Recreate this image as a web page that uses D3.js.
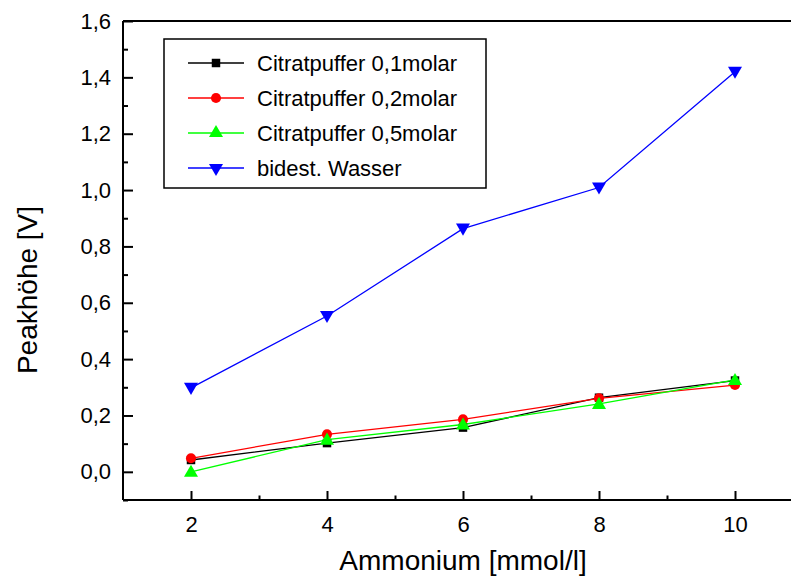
<!DOCTYPE html>
<html><head><meta charset="utf-8">
<script src="https://cdn.jsdelivr.net/npm/d3@7"></script>
<style>html,body{margin:0;padding:0;background:#fff;overflow:hidden}svg{display:block;font-family:"Liberation Sans",Arial,sans-serif}</style>
</head><body>
<svg id="c" width="791" height="578"></svg>
<script>
const xValues = [2, 4, 6, 8, 10];
const seriesNames = ["Citratpuffer 0,1molar", "Citratpuffer 0,2molar", "Citratpuffer 0,5molar", "bidest. Wasser"];
const citrat01 = [0.042, 0.102, 0.157, 0.263, 0.324];
const citrat02 = [0.048, 0.133, 0.186, 0.261, 0.308];
const citrat05 = [0.0, 0.114, 0.168, 0.241, 0.326];
const wasser = [0.298, 0.553, 0.863, 1.009, 1.42];
const yTicks = [0, 0.2, 0.4, 0.6, 0.8, 1.0, 1.2, 1.4, 1.6];
const xTicks = [2, 4, 6, 8, 10];

const colors = ["#000000", "#ff0000", "#00ff00", "#0000ff"];
const symbols = [d3.symbolSquare, d3.symbolCircle, d3.symbolTriangle, d3.symbolTriangle];
const symSizes = [72, 80, 85, 85];
const allSeries = [citrat01, citrat02, citrat05, wasser];

const svg = d3.select("#c");
const L = 123, T = 21, B = 500, R = 803;
const x = d3.scaleLinear().domain([1, 11]).range([L, R]);
const y = d3.scaleLinear().domain([-0.1, 1.6]).range([B, T]);
const fmt = d => d3.format(".1f")(d).replace(".", ",");
const FF = "Liberation Sans, Arial, sans-serif";

// top frame line
svg.append("line").attr("x1", L).attr("x2", R + 10).attr("y1", T).attr("y2", T).attr("stroke", "#000").attr("stroke-width", 2);

// x axis
const gx = svg.append("g").attr("transform", `translate(0,${B})`)
  .call(d3.axisBottom(x).tickValues(xTicks).tickSize(-9).tickPadding(16).tickFormat(d3.format("d")));
gx.select(".domain").attr("stroke-width", 2).attr("d", `M${L},0H${R + 10}`);
gx.selectAll(".tick line").attr("stroke-width", 2);
gx.selectAll("text").attr("font-size", 22).attr("font-family", FF);
const gxm = svg.append("g").attr("transform", `translate(0,${B})`)
  .call(d3.axisBottom(x).tickValues([3, 5, 7, 9]).tickSize(-4.5).tickFormat(""));
gxm.select(".domain").remove();
gxm.selectAll(".tick line").attr("stroke-width", 2);

// y axis
const gy = svg.append("g").attr("transform", `translate(${L},0)`)
  .call(d3.axisLeft(y).tickValues(yTicks).tickSize(-10).tickPadding(12).tickFormat(fmt));
gy.select(".domain").attr("stroke-width", 2).attr("d", `M0,${B}V${T}`);
gy.selectAll(".tick line").attr("stroke-width", 2);
gy.selectAll("text").attr("font-size", 22).attr("font-family", FF);
const gym = svg.append("g").attr("transform", `translate(${L},0)`)
  .call(d3.axisLeft(y).tickValues([-0.1, 0.1, 0.3, 0.5, 0.7, 0.9, 1.1, 1.3, 1.5]).tickSize(-5).tickFormat(""));
gym.select(".domain").remove();
gym.selectAll(".tick line").attr("stroke-width", 2);

// axis titles
svg.append("text").attr("x", x(6)).attr("y", 570).attr("text-anchor", "middle")
  .attr("font-size", 28).text("Ammonium [mmol/l]");
svg.append("text").attr("transform", `translate(37,290) rotate(-90)`).attr("text-anchor", "middle")
  .attr("font-size", 28).text("Peakhöhe [V]");

// series
const line = d3.line().x((d, i) => x(xValues[i])).y(d => y(d));
allSeries.forEach((s, k) => {
  svg.append("path").datum(s).attr("d", line).attr("fill", "none").attr("stroke", colors[k]).attr("stroke-width", 1.3);
});
allSeries.forEach((s, k) => {
  svg.selectAll(null).data(s).enter().append("path")
    .attr("d", d3.symbol().type(symbols[k]).size(symSizes[k]))
    .attr("transform", (d, i) => `translate(${x(xValues[i])},${y(d) + (k === 3 ? -1 : (k === 2 ? 1 : 0))})${k === 3 ? " rotate(180)" : ""}`)
    .attr("fill", colors[k]);
});

// legend
const lg = svg.append("g");
lg.append("rect").attr("x", 164).attr("y", 39).attr("width", 322).attr("height", 149)
  .attr("fill", "#fff").attr("stroke", "#000").attr("stroke-width", 1.5);
const rowY = [63, 98, 133, 168];
seriesNames.forEach((n, k) => {
  lg.append("line").attr("x1", 188).attr("x2", 244).attr("y1", rowY[k]).attr("y2", rowY[k])
    .attr("stroke", colors[k]).attr("stroke-width", 1.3);
  lg.append("path").attr("d", d3.symbol().type(symbols[k]).size(symSizes[k]))
    .attr("transform", `translate(216,${rowY[k]})${k === 3 ? " rotate(180)" : ""}`).attr("fill", colors[k]);
  lg.append("text").attr("x", 257).attr("y", rowY[k] + 8).attr("font-size", 22).attr("font-family", FF).text(n);
});
</script>
</body></html>
